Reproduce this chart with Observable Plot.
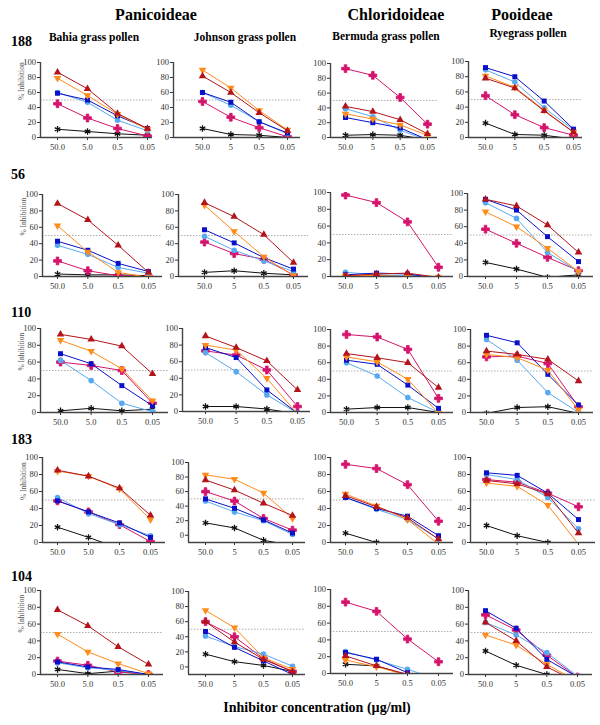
<!DOCTYPE html>
<html><head><meta charset="utf-8">
<script src="https://cdn.jsdelivr.net/npm/d3@7"></script>
<script src="https://cdn.jsdelivr.net/npm/@observablehq/plot@0.6"></script>
<style>
body{margin:0;background:#fff;}
#c{position:relative;width:600px;height:725px;overflow:hidden;font-family:"Liberation Serif","DejaVu Serif",serif;background:#fff;}
.t{position:absolute;font-weight:bold;white-space:nowrap;color:#000;line-height:1;font-family:"Liberation Serif","DejaVu Serif",serif;}
.p{position:absolute;}
</style></head><body><div id="c"></div>
<script>
// ---------- data ----------
const series = ["A","B","C","D","E","F"];
const concCol1 = ["50.0","5.0","0.5","0.05"];
const concOther = ["50.0","5","0.5","0.05"];
const sera = ["188","56","110","183","104"];
const pollens = ["Bahia grass pollen","Johnson grass pollen","Bermuda grass pollen","Ryegrass pollen"];
const subfamilies = ["Panicoideae","Chloridoideae","Pooideae"];
const yTicks = [0,20,40,60,80,100];
const footer = "Inhibitor concentration (µg/ml)";
const yLabel = "% Inhibition";

// rows: series A..F, columns: 50.0, 5, 0.5, 0.05
const s188Bahia   = [[87,65,32,12],[79,56,31,11],[59,50,29,12],[60,47,23,9],[45,26,12,2],[11,8,5,3]];
const s188Johnson = [[82,60,33,9],[90,66,36,10],[60,47,21,6],[60,43,21,5],[48,27,13,1],[12,4,3,0]];
const s188Bermuda = [[42,35,24,5],[32,25,17,3],[27,20,13,-3],[39,28,10,-4],[93,84,54,18],[3,4,3,-3]];
const s188Rye     = [[78,65,35,7],[81,66,36,7],[92,80,48,11],[89,73,39,10],[55,30,13,3],[19,4,3,-2]];
const s56Bahia    = [[89,69,38,5],[62,30,5,-1],[43,32,16,6],[38,27,11,4],[19,7,1,0],[3,2,2,1]];
const s56Johnson  = [[90,73,51,17],[87,55,24,1],[57,41,23,9],[49,32,19,6],[42,28,21,2],[5,7,4,2]];
const s56Bermuda  = [[1,3,4,-1],[1,1,0,-1],[2,4,3,-2],[5,2,1,-2],[97,88,65,11],[0,1,1,-1]];
const s56Rye      = [[93,85,62,29],[78,60,34,6],[93,80,48,18],[89,70,29,6],[57,40,23,7],[17,9,-1,2]];
const s110Bahia   = [[93,87,79,46],[86,73,52,14],[70,58,32,8],[62,38,11,1],[60,56,50,11],[2,5,2,4]];
const s110Johnson = [[91,77,61,26],[80,74,40,-3],[77,65,26,-2],[71,48,20,-2],[73,68,50,6],[6,6,3,-3]];
const s110Bermuda = [[71,66,60,30],[67,61,40,-1],[63,58,33,5],[60,44,18,0],[94,91,76,17],[4,6,6,0]];
const s110Rye     = [[74,70,64,38],[70,66,51,3],[93,84,46,9],[88,63,24,0],[67,68,59,7],[-1,6,7,-1]];
const s183Bahia   = [[85,78,64,32],[84,78,63,27],[49,36,23,6],[53,34,21,8],[49,36,21,1],[18,6,-7,-15]];
const s183Johnson = [[76,62,44,27],[83,77,58,23],[50,37,21,3],[47,32,20,1],[60,47,23,7],[17,10,-7,-14]];
const s183Bermuda = [[55,42,29,4],[57,43,27,-2],[53,40,31,8],[53,39,27,4],[92,87,68,25],[11,0,-10,-20]];
const s183Rye     = [[73,69,57,11],[70,66,44,-2],[82,79,58,27],[80,74,53,16],[74,71,58,42],[20,8,0,-8]];
const s104Bahia   = [[77,58,33,12],[48,27,13,1],[15,9,6,0],[14,8,5,0],[16,11,3,0],[6,1,4,0]];
const s104Johnson = [[60,33,10,-6],[75,52,12,-3],[47,26,8,-10],[41,27,17,1],[60,40,11,-6],[17,7,2,-6]];
const s104Bermuda = [[21,9,-1,-10],[16,8,-2,-10],[25,17,1,-10],[26,16,5,-7],[85,74,41,14],[11,9,-2,-10]];
const s104Rye     = [[62,40,9,-9],[47,35,12,-8],[76,55,18,-3],[62,47,26,-2],[71,53,23,-3],[28,11,0,-10]];
const yMins = [[0,0,0,0],[0,0,0,0],[0,0,0,0],[0,-10,0,0],[0,-10,0,0]];

const panelData = [
  [s188Bahia,s188Johnson,s188Bermuda,s188Rye],
  [s56Bahia,s56Johnson,s56Bermuda,s56Rye],
  [s110Bahia,s110Johnson,s110Bermuda,s110Rye],
  [s183Bahia,s183Johnson,s183Bermuda,s183Rye],
  [s104Bahia,s104Johnson,s104Bermuda,s104Rye]
];

// ---------- layout (pixel boxes: axisX, firstTick, lastTick, axisEnd, top, bottom) ----------
const boxes = [
  [[40,57,147,152,62,137],[173,202,287,300,62,137],[330,345,427,437,63,137],[468,485,573,582,61,137]],
  [[42,57,148,162,194,276],[178,204,293,308,194,276],[330,345,438,453,192,276],[467,485,578,593,193,276]],
  [[40,60,152,168,328,412],[182,205,297,310,328,411],[330,346,438,453,329,412],[470,486,578,593,329,412]],
  [[42,57,150,165,457,542],[188,205,292,305,462,542],[330,345,438,453,457,542],[470,486,578,595,457,542]],
  [[40,57,148,163,590,674],[188,205,292,305,591,674],[330,345,438,453,589,673],[468,485,577,592,590,674]]
];

const sqrt3 = Math.sqrt(3);
const triangleDown = {draw(ctx, size){
  const y = -Math.sqrt(size/(sqrt3*3));
  ctx.moveTo(0, -y*2); ctx.lineTo(-sqrt3*y, y); ctx.lineTo(sqrt3*y, y); ctx.closePath();
}};
const style = {
  A:{color:"#b3141c", symbol:"triangle"},
  B:{color:"#ff8c1a", symbol:triangleDown},
  C:{color:"#0a10c8", symbol:"square"},
  D:{color:"#58a9f0", symbol:"circle"},
  E:{color:"#d4136c", symbol:"cross"},
  F:{color:"#111111", symbol:"asterisk"}
};

const root = document.getElementById("c");
function addText(txt, x, baseline, fs, anchor){
  const d = document.createElement("div");
  d.className = "t";
  d.textContent = txt;
  d.style.fontSize = fs + "px";
  d.style.top = (baseline - 0.84*fs) + "px";
  d.style.left = x + "px";
  if (anchor === "middle") d.style.transform = "translateX(-50%)";
  root.appendChild(d);
}

function panel(vals, labels, g, ymin, firstCol){
  const [x0,t0,t3,xe,yT,yB] = g;
  const mL = 32, mR = 4, mT = 6, mB = 20;
  const px = (t3-t0)/3;
  const dmin = -(t0-x0)/px, dmax = 3 + (xe-t3)/px;
  const width = (xe-x0)+mL+mR, height = (yB-yT)+mT+mB;
  const marks = [
    Plot.ruleY([50], {stroke:"#9a9a9a", strokeDasharray:"1.5,1.5", strokeWidth:0.8}),
    Plot.axisY({ticks:yTicks, tickSize:3, tickPadding:1.5, label:null, fontSize:8.5}),
    Plot.axisX({ticks:[0,1,2,3], tickFormat:i=>labels[i], tickSize:3, tickPadding:3, label:null, fontSize:8.5}),
    Plot.ruleX([dmin], {stroke:"#444", strokeWidth:1.4}),
    Plot.ruleY([ymin], {stroke:"#444", strokeWidth:1.4})
  ];
  if (firstCol) marks.push(Plot.text([yLabel], {text:d=>d, frameAnchor:"left", dx:-19, rotate:-90, fontSize:7.5, fill:"#555"}));
  for (let si = series.length-1; si >= 0; si--) {
    const s = series[si], st = style[s];
    const data = vals[si].map((v,i)=>({i, v}));
    marks.push(Plot.line(data, {x:"i", y:"v", stroke:st.color, strokeWidth:1, clip:true}));
    if (s === "F") marks.push(Plot.dot(data, {x:"i", y:"v", symbol:st.symbol, stroke:st.color, fill:"none", strokeWidth:1.3, r:3, clip:true}));
    else marks.push(Plot.dot(data, {x:"i", y:"v", symbol:st.symbol, fill:st.color, stroke: s === "E" ? st.color : "none", strokeWidth: s === "E" ? 0.8 : 0, strokeLinejoin:"round", r: s === "E" ? 3.3 : 2.8, clip:true}));
  }
  const svg = Plot.plot({
    width, height, marginLeft:mL, marginRight:mR, marginTop:mT, marginBottom:mB,
    x:{type:"linear", domain:[dmin,dmax]},
    y:{domain:[ymin,100]},
    style:{fontFamily:"'Liberation Serif', 'DejaVu Serif', serif", color:"#333", background:"transparent", overflow:"visible"},
    marks
  });
  svg.classList.add("p");
  svg.style.left = (x0-mL) + "px";
  svg.style.top = (yT-mT) + "px";
  root.appendChild(svg);
}

for (let r = 0; r < 5; r++) {
  for (let c = 0; c < 4; c++) {
    panel(panelData[r][c], c === 0 ? concCol1 : concOther, boxes[r][c], yMins[r][c], c === 0);
  }
}

// ---------- text ----------
addText(subfamilies[0], 156, 20, 16, "middle");
addText(subfamilies[1], 396, 20, 16, "middle");
addText(subfamilies[2], 522, 20, 16, "middle");
addText(pollens[0], 94, 42, 11.5, "middle");
addText(pollens[1], 245, 42, 11.5, "middle");
addText(pollens[2], 386, 41, 11.5, "middle");
addText(pollens[3], 528, 38, 11.5, "middle");
const rowBase = [47, 180, 318, 445, 582];
sera.forEach((s,i)=>addText(s, 11, rowBase[i], 14, "start"));
addText(footer, 317, 713, 14, "middle");
</script></body></html>
